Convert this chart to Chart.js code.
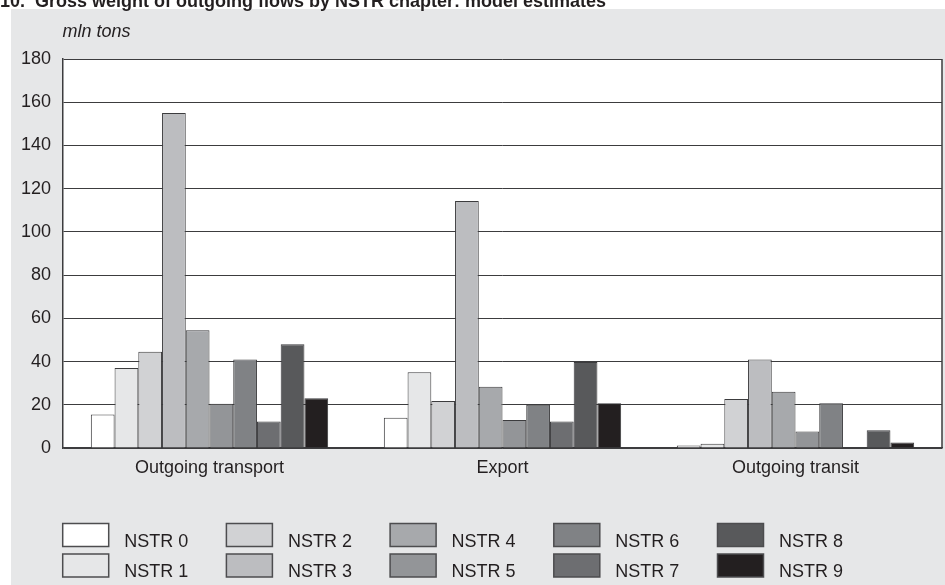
<!DOCTYPE html>
<html>
<head>
<meta charset="utf-8">
<script src="https://cdn.jsdelivr.net/npm/chart.js@4/dist/chart.umd.min.js"></script>
<style>
  html, body { margin: 0; padding: 0; background: #fff; overflow: hidden; }
  #wrap { position: relative; width: 945px; height: 585px; }
  #title { position: absolute; left: 0; top: -8px; font: bold 18px "Liberation Sans", Arial, sans-serif;
           line-height: 18px; color: #231f20; white-space: nowrap; z-index: 2; }
  canvas { position: absolute; left: 0; top: 0; }
</style>
</head>
<body>
<div id="wrap">
  <div id="title">10.&nbsp; Gross weight of outgoing flows by NSTR chapter: model estimates</div>
  <canvas id="c" width="945" height="585"></canvas>
</div>
<script>
// categorias y valores (mln tons)
const categories = ["Outgoing transport", "Export", "Outgoing transit"];
const seriesNames = ["NSTR 0","NSTR 1","NSTR 2","NSTR 3","NSTR 4","NSTR 5","NSTR 6","NSTR 7","NSTR 8","NSTR 9"];
const transportVals = [15.5, 37, 44.5, 155, 54.5, 20.5, 41, 12.3, 48, 23];
const exportVals    = [14, 35, 21.7, 114.3, 28.3, 13, 20, 12.3, 39.8, 20.7];
const transitVals   = [1.2, 2, 22.7, 41, 26, 7.6, 20.7, null, 8.2, 2.6];
const yTicks = [0, 20, 40, 60, 80, 100, 120, 140, 160, 180];

const fills = ["#ffffff","#e6e7e8","#d1d2d4","#bcbdc0","#a7a9ac","#939598","#808285","#6d6e71","#58595b","#231f20"];
const INK = "#231f20";
const LINE = "#3c3c3e";
const FONT = '"Liberation Sans", Arial, sans-serif';

const datasets = seriesNames.map((name, i) => ({
  label: name,
  data: [transportVals[i], exportVals[i], transitVals[i]],
  backgroundColor: fills[i],
  borderColor: LINE,
  borderWidth: 1,
  barPercentage: 1,
  categoryPercentage: 0.81
}));

const frame = {
  id: "frame",
  beforeDraw(chart) {
    const { ctx, chartArea: a } = chart;
    ctx.save();
    ctx.fillStyle = "#e6e7e8";
    ctx.fillRect(11, 9, 945 - 11, 585 - 9);
    ctx.fillStyle = "#fff";
    ctx.fillRect(a.left, a.top, a.right - a.left, a.bottom - a.top);
    ctx.restore();
  },
  afterDraw(chart) {
    const { ctx, chartArea: a } = chart;
    ctx.save();
    // borde derecho
    ctx.strokeStyle = LINE;
    ctx.lineWidth = 1.5;
    ctx.beginPath();
    ctx.moveTo(a.right, a.top);
    ctx.lineTo(a.right, a.bottom);
    ctx.stroke();
    // unidad
    ctx.fillStyle = INK;
    ctx.font = "italic 18px " + FONT;
    ctx.textBaseline = "alphabetic";
    ctx.fillText("mln tons", 62.5, 37);
    // leyenda en columnas (0/1, 2/3, ...)
    ctx.font = "18px " + FONT;
    chart.data.datasets.forEach((ds, i) => {
      const col = Math.floor(i / 2), row = i % 2;
      const x = 62.7 + col * 163.7;
      const y = row === 0 ? 523.5 : 554;
      ctx.fillStyle = ds.backgroundColor;
      ctx.fillRect(x, y, 46, 23);
      ctx.strokeStyle = "#4d4d4f";
      ctx.lineWidth = 1.5;
      ctx.strokeRect(x, y, 46, 23);
      ctx.fillStyle = INK;
      ctx.fillText(ds.label, x + 61.5, y + 23);
    });
    ctx.restore();
  }
};

new Chart(document.getElementById("c").getContext("2d"), {
  type: "bar",
  data: { labels: categories, datasets },
  options: {
    responsive: false,
    animation: false,
    devicePixelRatio: 1,
    layout: { padding: { left: 0, top: 59, right: 3, bottom: 97 } },
    plugins: { legend: { display: false }, tooltip: { enabled: false }, title: { display: false } },
    scales: {
      x: {
        grid: { display: false },
        border: { display: true, color: LINE, width: 1.5 },
        ticks: { color: INK, font: { family: FONT, size: 18 }, padding: 1, maxRotation: 0 },
        afterFit(s) { s.height = 40; }
      },
      y: {
        min: 0, max: 180,
        afterBuildTicks(s) { s.ticks = yTicks.map(v => ({ value: v })); },
        grid: { color: LINE, lineWidth: 1, drawTicks: false },
        border: { display: true, color: LINE, width: 1.5 },
        ticks: { color: INK, font: { family: FONT, size: 18 }, padding: 12 },
        afterFit(s) { s.width = 63; }
      }
    }
  },
  plugins: [frame]
});
</script>
</body>
</html>
